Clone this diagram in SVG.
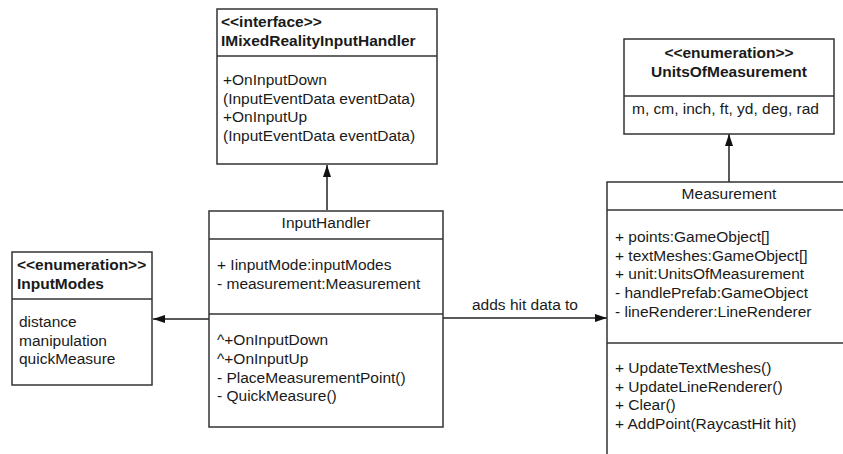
<svg xmlns="http://www.w3.org/2000/svg" width="843" height="454" viewBox="0 0 843 454">
<defs>
<marker id="arr" viewBox="0 0 12 8" refX="12" refY="4" markerWidth="12" markerHeight="8" markerUnits="userSpaceOnUse" orient="auto">
<path d="M0,0 L12,4 L0,8 Z" fill="#111"/>
</marker>
<style>
.box{fill:#fff;stroke:#333;stroke-width:1.5}
.div{stroke:#333;stroke-width:1.5}
text{font-family:"Liberation Sans",Arial,sans-serif;font-size:15.5px;fill:#1a1a1a}
.b{font-weight:bold}
.c{text-anchor:middle}
.conn{stroke:#222;stroke-width:1.5;fill:none;marker-end:url(#arr)}
</style>
</defs>
<rect width="843" height="454" fill="#fff"/>
<g id="connectors">
<line class="conn" x1="327" y1="210" x2="327" y2="165"/>
<line class="conn" x1="729" y1="182" x2="729" y2="134"/>
<line class="conn" x1="209" y1="319" x2="153" y2="319"/>
<line class="conn" x1="443" y1="318" x2="607" y2="318"/>
<text x="525" y="310" class="c">adds hit data to</text>
</g>
<g id="IMixedRealityInputHandler">
<rect class="box" x="217" y="9" width="220" height="155"/>
<line class="div" x1="217" y1="56" x2="437" y2="56"/>
<text x="221" y="27" class="b">&lt;&lt;interface&gt;&gt;</text>
<text x="221" y="46" class="b">IMixedRealityInputHandler</text>
<text x="223" y="85">+OnInputDown</text>
<text x="223" y="104">(InputEventData eventData)</text>
<text x="223" y="122">+OnInputUp</text>
<text x="223" y="141">(InputEventData eventData)</text>
</g>
<g id="UnitsOfMeasurement">
<rect class="box" x="624" y="39" width="210" height="95"/>
<line class="div" x1="624" y1="96" x2="834" y2="96"/>
<text x="729" y="58" class="b c">&lt;&lt;enumeration&gt;&gt;</text>
<text x="729" y="77" class="b c">UnitsOfMeasurement</text>
<text x="632" y="114">m, cm, inch, ft, yd, deg, rad</text>
</g>
<g id="InputHandler">
<rect class="box" x="209" y="211" width="234" height="216"/>
<line class="div" x1="209" y1="239" x2="443" y2="239"/>
<line class="div" x1="209" y1="314" x2="443" y2="314"/>
<text x="326" y="228" class="c">InputHandler</text>
<text x="217" y="270">+ IinputMode:inputModes</text>
<text x="217" y="289">- measurement:Measurement</text>
<text x="217" y="345">^+OnInputDown</text>
<text x="217" y="364">^+OnInputUp</text>
<text x="217" y="383">- PlaceMeasurementPoint()</text>
<text x="217" y="401">- QuickMeasure()</text>
</g>
<g id="InputModes">
<rect class="box" x="12" y="252" width="140" height="133"/>
<line class="div" x1="12" y1="299" x2="152" y2="299"/>
<text x="17" y="270" class="b">&lt;&lt;enumeration&gt;&gt;</text>
<text x="17" y="289" class="b">InputModes</text>
<text x="19" y="327">distance</text>
<text x="19" y="346">manipulation</text>
<text x="19" y="364">quickMeasure</text>
</g>
<g id="Measurement">
<rect class="box" x="607" y="182" width="244" height="290"/>
<line class="div" x1="607" y1="210" x2="851" y2="210"/>
<line class="div" x1="607" y1="343" x2="851" y2="343"/>
<text x="729" y="199" class="c">Measurement</text>
<text x="615" y="242">+ points:GameObject[]</text>
<text x="615" y="261">+ textMeshes:GameObject[]</text>
<text x="615" y="279">+ unit:UnitsOfMeasurement</text>
<text x="615" y="298">- handlePrefab:GameObject</text>
<text x="615" y="317">- lineRenderer:LineRenderer</text>
<text x="615" y="373">+ UpdateTextMeshes()</text>
<text x="615" y="392">+ UpdateLineRenderer()</text>
<text x="615" y="410">+ Clear()</text>
<text x="615" y="429">+ AddPoint(RaycastHit hit)</text>
</g>
</svg>
